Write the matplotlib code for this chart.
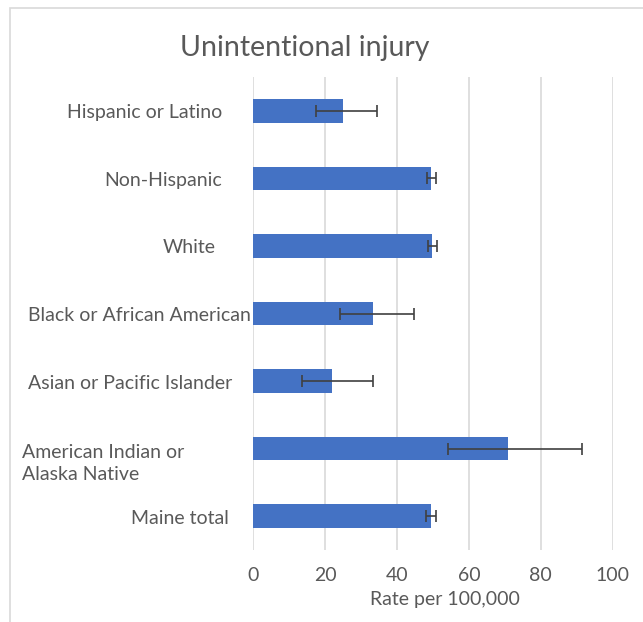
import matplotlib
matplotlib.use("Agg")
import matplotlib.pyplot as plt
from matplotlib.patches import Rectangle
import matplotlib.transforms as mtransforms

categories = ["Hispanic or Latino", "Non-Hispanic", "White", "Black or African American",
              "Asian or Pacific Islander", "American Indian or\nAlaska Native", "Maine total"]
rates = [25.0, 49.4, 49.8, 33.3, 21.8, 70.9, 49.4]
ci_low = [17.5, 48.3, 48.6, 24.1, 13.6, 54.1, 48.1]
ci_high = [34.5, 50.7, 51.1, 44.6, 33.2, 91.4, 50.8]
xticks = [0, 20, 40, 60, 80, 100]

# label layout (pixel left edge, vertical offset in category units)
label_left_px = [67, 104, 163, 28, 28, 22, 131]
label_dy = [0.03, 0.03, 0.03, 0.03, 0.03, 0.22, 0.03]

W, H = 643, 622
DPI = 100
plt.rcParams['font.family'] = ['Lato', 'DejaVu Sans']
fig = plt.figure(figsize=(W / DPI, H / DPI), dpi=DPI)
fig.patch.set_facecolor('white')

# chart border
fig.add_artist(Rectangle((10 / W, -0.1), 1.2, 1 - 8 / H + 0.1, transform=fig.transFigure,
                         fill=False, edgecolor='#d9d9d9', linewidth=1.2))

x0, x1 = 253.3, 612.7
y_top, y_bot = 77, 550
ax = fig.add_axes([x0 / W, 1 - y_bot / H, (x1 - x0) / W, (y_bot - y_top) / H])

n = len(categories)
ypos = list(range(n))
err_lo = [r - l for r, l in zip(rates, ci_low)]
err_hi = [h - r for r, h in zip(rates, ci_high)]
ax.barh(ypos, rates, height=0.35, color='#4472C4', zorder=2)
ax.errorbar(rates, ypos, xerr=[err_lo, err_hi], fmt='none', ecolor='#404040',
            elinewidth=1.2, capsize=4, capthick=1.2, zorder=3)

ax.set_xlim(0, 100)
ax.set_ylim(n - 0.5, -0.5)
ax.set_xticks(xticks)
ax.set_xticklabels([str(t) for t in xticks], fontsize=14, color='#595959')
ax.tick_params(axis='x', length=0, pad=12)
ax.set_yticks([])
ax.grid(axis='x', color='#d9d9d9', linewidth=1.2, zorder=0)
ax.set_axisbelow(True)
for s in ax.spines.values():
    s.set_visible(False)

trans = mtransforms.blended_transform_factory(fig.transFigure, ax.transData)
for i, lab in enumerate(categories):
    ax.text(label_left_px[i] / W, ypos[i] + label_dy[i], lab, transform=trans, ha='left',
            va='center', fontsize=14, color='#595959', linespacing=1.4)

fig.text(305 / W, 1 - 48 / H, "Unintentional injury", ha='center', va='center',
         fontsize=20.5, color='#595959')
fig.text(445 / W, 1 - 600 / H, "Rate per 100,000", ha='center', va='center',
         fontsize=14, color='#595959')

fig.savefig("out.png", dpi=DPI)
